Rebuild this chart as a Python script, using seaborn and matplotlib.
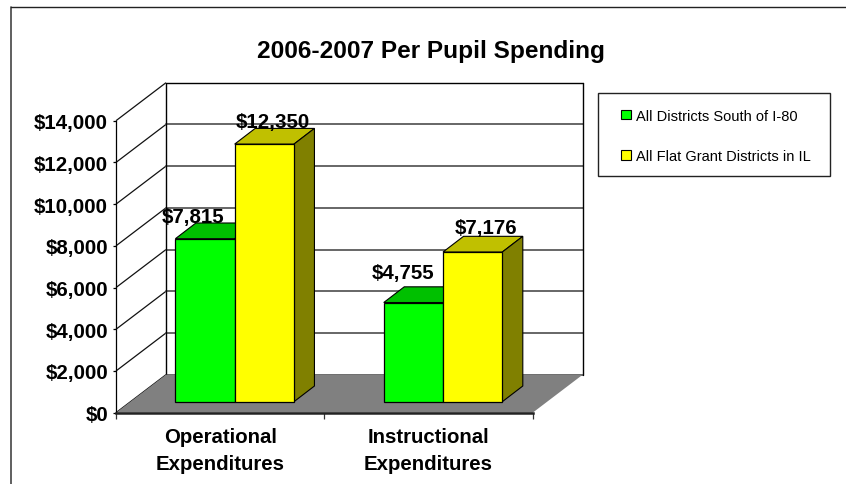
import matplotlib
matplotlib.use("Agg")
import matplotlib.pyplot as plt
import pandas as pd
import seaborn as sns
from matplotlib.lines import Line2D
from matplotlib.patches import Polygon, Rectangle

categories = ["Operational\nExpenditures", "Instructional\nExpenditures"]
series_names = ["All Districts South of I-80", "All Flat Grant Districts in IL"]
south_values = [7815, 4755]
flat_values = [12350, 7176]
value_labels = [["$7,815", "$4,755"], ["$12,350", "$7,176"]]
y_ticks = [0, 2000, 4000, 6000, 8000, 10000, 12000, 14000]
y_tick_labels = ["$0", "$2,000", "$4,000", "$6,000", "$8,000", "$10,000", "$12,000", "$14,000"]
title = "2006-2007 Per Pupil Spending"

front_colors = ["#00FF00", "#FFFF00"]
top_colors = ["#00C000", "#C0C000"]
side_colors = ["#008000", "#808000"]
label_offsets_px = [[(-12, 22), (-10.8, 30.5)], [(8.6, 22.6), (13.6, 25)]]

W, H = 846, 485
sns.set_theme(style="white")
plt.rcParams["font.family"] = ["Liberation Sans", "DejaVu Sans"]

fig = plt.figure(figsize=(W / 100, H / 100), dpi=100, facecolor="white")
ax_l, ax_r, ax_t, ax_b = 116.0, 532.7, 121.7, 413.7
ax = fig.add_axes([ax_l / W, (H - ax_b) / H, (ax_r - ax_l) / W, (ax_b - ax_t) / H])
ax.patch.set_alpha(0)

df = pd.DataFrame({
    "category": categories * 2,
    "series": [series_names[0]] * 2 + [series_names[1]] * 2,
    "value": south_values + flat_values,
})
sns.barplot(data=df, x="category", y="value", hue="series", hue_order=series_names,
            palette=front_colors, saturation=1, width=0.569, gap=0, dodge=True,
            edgecolor="black", linewidth=0.9, ax=ax, legend=True, zorder=5)
ax.set_xlim(-0.5, 1.5)
ax.set_ylim(0, 14000)

px_x = 2.0 / (ax_r - ax_l)           # data units per pixel, horizontally
px_y = 14000 / (ax_b - ax_t)         # data units per pixel, vertically

# walls and floor
back_dx, back_dy = 50 * px_x, 38 * px_y
for v in y_ticks:
    ax.plot([-0.5, -0.5 + back_dx], [v, v + back_dy], color="#111111", lw=0.9,
            clip_on=False, zorder=1, solid_capstyle="butt")
    is_edge = v == y_ticks[-1]
    ax.plot([-0.5 + back_dx, 1.5 + back_dx], [v + back_dy, v + back_dy],
            color="black" if is_edge else "#666666", lw=1.0 if is_edge else 1.4,
            clip_on=False, zorder=1)
for xb in (-0.5 + back_dx, 1.5 + back_dx):
    ax.plot([xb, xb], [back_dy, 14000 + back_dy], color="black", lw=1.0, clip_on=False, zorder=1)
ax.add_patch(Polygon([(-0.5, 0), (1.5, 0), (1.5 + back_dx, back_dy), (-0.5 + back_dx, back_dy)],
                     closed=True, facecolor="#808080", edgecolor="none", clip_on=False, zorder=2))

# shift bars onto the floor and add the depth faces
shift_x, shift_y = 14.5 * px_x, 11 * px_y
depth_x, depth_y = 20.5 * px_x, 15.7 * px_y
for i, container in enumerate(ax.containers):
    z = 5 + 2 * i
    for j, bar in enumerate(container):
        bar.set_x(bar.get_x() + shift_x)
        bar.set_y(shift_y)
        bar.set_clip_on(False)
        bar.set_zorder(z + 1)
        x0, x1 = bar.get_x(), bar.get_x() + bar.get_width()
        y0, y1 = bar.get_y(), bar.get_y() + bar.get_height()
        ax.add_patch(Polygon([(x0, y1), (x1, y1), (x1 + depth_x, y1 + depth_y), (x0 + depth_x, y1 + depth_y)],
                             closed=True, facecolor=top_colors[i], edgecolor="black", lw=0.8,
                             clip_on=False, zorder=z))
        ax.add_patch(Polygon([(x1, y0), (x1 + depth_x, y0 + depth_y), (x1 + depth_x, y1 + depth_y), (x1, y1)],
                             closed=True, facecolor=side_colors[i], edgecolor="black", lw=0.8,
                             clip_on=False, zorder=z))
        dx, dy = label_offsets_px[i][j]
        ax.annotate(value_labels[i][j], xy=((x0 + x1) / 2, y1), xytext=(dx * 0.72, dy * 0.72),
                    textcoords="offset points", ha="center", va="center",
                    fontsize=14.8, fontweight="bold", color="black", zorder=20)

# axes
for s in ("top", "right"):
    ax.spines[s].set_visible(False)
ax.spines["left"].set_linewidth(0.9)
ax.spines["left"].set_color("black")
ax.spines["bottom"].set_linewidth(1.8)
ax.spines["bottom"].set_color("#222222")
ax.spines["bottom"].set_zorder(15)
ax.set_yticks(y_ticks)
ax.set_yticklabels(y_tick_labels, fontsize=14.8, fontweight="bold", color="black")
ax.tick_params(axis="y", left=True, length=2.5, width=0.9, color="black", pad=3.2)
ax.set_xticks([0, 1])
ax.set_xticklabels(categories, fontsize=14.7, fontweight="bold", color="black", linespacing=1.5)
ax.set_xticks([-0.5, 0.5, 1.5], minor=True)
ax.tick_params(axis="x", which="minor", bottom=True, length=4.5, width=0.9, color="#333333")
ax.tick_params(axis="x", which="major", bottom=False, length=0, pad=10.5)
ax.set_xlabel("")
ax.set_ylabel("")

handles, labels = ax.get_legend_handles_labels()
ax.get_legend().remove()

# title
fig.text(431 / W, 1 - 52 / H, title, ha="center", va="center", fontsize=17.6, fontweight="bold", color="black")

# legend box
box_l, box_r, box_t, box_b = 597.7, 830.0, 94.3, 176.7
fig.add_artist(Rectangle((box_l / W, 1 - box_b / H), (box_r - box_l) / W, (box_b - box_t) / H,
                         transform=fig.transFigure, facecolor="white", edgecolor="#222222", lw=1.0))
leg = fig.legend(handles, labels, loc="center",
                 bbox_to_anchor=(((box_l + box_r) / 2 + 2) / W, 1 - ((box_t + box_b) / 2 + 1.5) / H),
                 frameon=False, fontsize=10.5, handlelength=0.65, handleheight=0.65,
                 handletextpad=0.35, labelspacing=1.82, labelcolor="black")
for h in leg.legend_handles:
    h.set_edgecolor("black")
    h.set_linewidth(0.8)

# chart-area outline (left and top only)
fig.add_artist(Line2D([11 / W, 11 / W], [0, 1 - 8.3 / H], color="#444444", lw=1.2))
fig.add_artist(Line2D([11 / W, 1], [1 - 8.3 / H, 1 - 8.3 / H], color="#222222", lw=1.0))

fig.savefig("out.png", dpi=100, facecolor="white")
